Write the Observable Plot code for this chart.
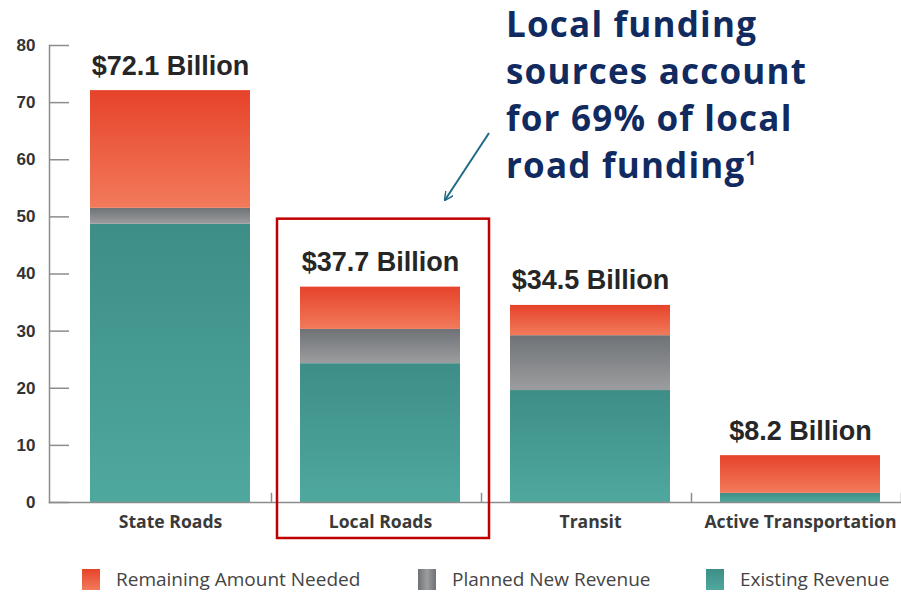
<!DOCTYPE html>
<html><head><meta charset="utf-8">
<script src="https://cdn.jsdelivr.net/npm/d3@7"></script>
<script src="https://cdn.jsdelivr.net/npm/@observablehq/plot@0.6"></script>
<style>
body{margin:0;background:#fff;width:901px;height:593px;overflow:hidden;position:relative;font-family:"Open Sans",sans-serif}
#chart{position:absolute;left:0;top:0}
#callout{position:absolute;left:506px;top:0px;font-family:"Open Sans",sans-serif;font-weight:700;font-size:35px;line-height:47px;color:#112a60;white-space:nowrap;letter-spacing:1.2px}
#callout sup{font-size:19px;vertical-align:top;line-height:34px;letter-spacing:0}
#arrow{position:absolute;left:0;top:0;pointer-events:none}
#legend{position:absolute;top:568px;left:0;width:901px;height:24px}
.item{position:absolute;top:0;display:flex;align-items:center;font-size:19px;color:#444;height:22px}
.sw{width:18px;height:21px;margin-right:16px;flex:none}
</style></head><body>
<div id="chart"></div>
<div id="callout">Local funding<br>sources account<br>for 69% of local<br>road funding<sup>1</sup></div>
<svg id="arrow" width="901" height="593">
  <defs><marker id="ah" viewBox="0 0 10 10" refX="9" refY="5" markerWidth="9" markerHeight="9" orient="auto-start-reverse" markerUnits="userSpaceOnUse">
    <path d="M0,0 L10,5 L0,10" fill="none" stroke="#1f6a86" stroke-width="1.6"/></marker></defs>
  <line x1="489" y1="133" x2="445" y2="200" stroke="#1f6a86" stroke-width="2" marker-end="url(#ah)"/>
</svg>
<div id="legend"></div>
<script>
const categories = ["State Roads", "Local Roads", "Transit", "Active Transportation"];
const series = ["Existing Revenue", "Planned New Revenue", "Remaining Amount Needed"];
const totals = [72.1, 37.7, 34.5, 8.2];
const existing = [48.7, 24.3, 19.6, 1.6];
const planned = [2.8, 6.0, 9.6, 0];
const yTicks = [0, 10, 20, 30, 40, 50, 60, 70, 80];
const legendOrder = ["Remaining Amount Needed", "Planned New Revenue", "Existing Revenue"];

const gradients = {
  "Existing Revenue": ["gExist", "#3d8e86", "#4fa89e"],
  "Planned New Revenue": ["gPlan", "#6e7276", "#9c9d9f"],
  "Remaining Amount Needed": ["gRem", "#e6432a", "#f27a5b"]
};

const rows = [];
categories.forEach((c, i) => {
  rows.push({category: c, series: "Existing Revenue", value: existing[i]});
  rows.push({category: c, series: "Planned New Revenue", value: planned[i]});
  rows.push({category: c, series: "Remaining Amount Needed", value: +(totals[i] - existing[i] - planned[i]).toFixed(2)});
});
const totalRows = categories.map((c, i) => ({category: c, total: totals[i]}));
const highlight = [{category: "Local Roads"}];

function defsMark() {
  const g = d3.create("svg:defs");
  for (const s of series) {
    const [id, top, bottom] = gradients[s];
    const lg = g.append("linearGradient").attr("id", id).attr("x1", 0).attr("y1", 0).attr("x2", 0).attr("y2", 1);
    lg.append("stop").attr("offset", "0%").attr("stop-color", top);
    lg.append("stop").attr("offset", "100%").attr("stop-color", bottom);
  }
  return g.node();
}

const axisColor = "#8c8c8c";
const chart = Plot.plot({
  width: 901,
  height: 548,
  marginTop: 45,
  marginLeft: 49,
  marginRight: 1,
  marginBottom: 46,
  style: {fontFamily: "Liberation Sans, Arial, sans-serif", color: "#333", background: "transparent", overflow: "visible"},
  x: {domain: categories, range: [65, 905], paddingInner: 0.24, paddingOuter: 0.12, label: null},
  y: {domain: [0, 80], label: null},
  color: {domain: series, range: series.map(s => `url(#${gradients[s][0]})`)},
  marks: [
    defsMark,
    Plot.barY(rows, Plot.stackY({x: "category", y: "value", fill: "series", order: series})),
    Plot.frame({anchor: "left", stroke: axisColor, strokeWidth: 1.5}),
    Plot.frame({anchor: "bottom", stroke: axisColor, strokeWidth: 1.5}),
    Plot.ruleX(categories, {x: d => d, y1: 0, y2: 1.6, dx: 101, stroke: axisColor, strokeWidth: 1.5}),
    Plot.axisY(yTicks, {tickSize: 0, tickPadding: 14, fontSize: 17, fontWeight: "bold", fill: "#333", label: null}),
    Plot.axisY(yTicks, {tickSize: -20, tickFormat: () => "", stroke: axisColor, strokeWidth: 1.5, label: null}),
    Plot.axisX({tickSize: 0, tickPadding: 13, fontSize: 17.6, fontWeight: 700, fontFamily: "Open Sans", fill: "#3a3a3a", label: null}),
    Plot.text(totalRows, {x: "category", y: "total", text: d => `$${d.total} Billion`, dy: -16, lineAnchor: "bottom", fontSize: 27, fontWeight: "bold", fill: "#262626"}),
    Plot.barY(highlight, {x: "category", y1: -6.3, y2: 49.6, fill: "none", stroke: "#c00000", strokeWidth: 2.5, insetLeft: -23, insetRight: -29})
  ]
});
document.getElementById("chart").appendChild(chart);

const legend = document.getElementById("legend");
const legendX = [82, 418, 706];
legendOrder.forEach((s, i) => {
  const [, top, bottom] = gradients[s];
  const item = document.createElement("div");
  item.className = "item";
  item.style.left = legendX[i] + "px";
  const sw = document.createElement("div");
  sw.className = "sw";
  sw.style.background = s === "Planned New Revenue"
    ? `linear-gradient(to right, ${top}, ${bottom} 50%, ${top})`
    : `linear-gradient(${top}, ${bottom})`;
  const label = document.createElement("span");
  label.textContent = s;
  item.appendChild(sw);
  item.appendChild(label);
  legend.appendChild(item);
});
</script>
</body></html>
